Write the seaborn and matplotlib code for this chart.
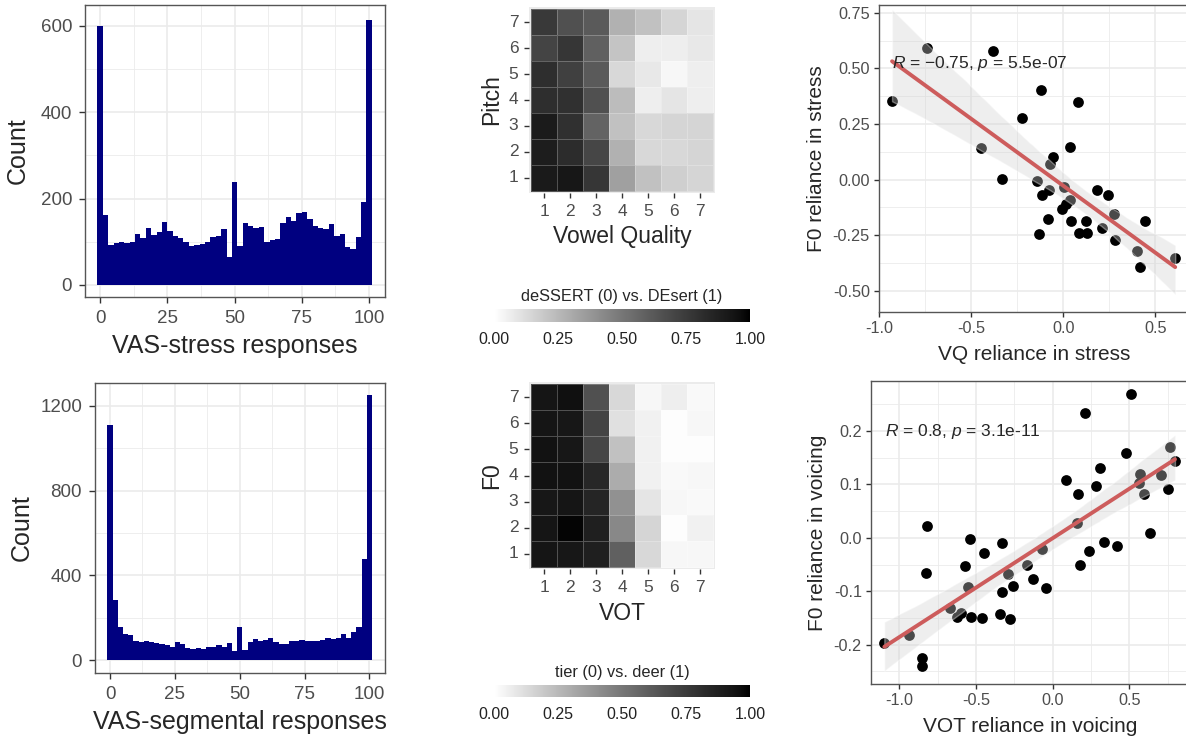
import numpy as np
import pandas as pd
import matplotlib
matplotlib.use("Agg")
import matplotlib.pyplot as plt
from matplotlib.colors import ListedColormap
from matplotlib.ticker import MultipleLocator
import seaborn as sns

# ---- data ----
bin_centers = np.arange(0, 101, 2)
stress_counts = [601, 162, 93, 97, 100, 98, 100, 118, 110, 131, 116, 122, 145, 124, 114, 110,
                 99, 91, 93, 94, 100, 112, 114, 129, 64, 238, 91, 143, 137, 131, 135, 99,
                 104, 106, 143, 157, 149, 166, 168, 152, 137, 133, 129, 141, 114, 118, 87, 83,
                 111, 193, 615]
segment_counts = [1112, 284, 155, 121, 118, 90, 87, 90, 85, 79, 76, 71, 63, 85, 76, 58,
                  54, 57, 54, 63, 60, 69, 63, 79, 44, 158, 47, 87, 98, 91, 95, 106,
                  84, 74, 74, 90, 90, 95, 90, 90, 90, 95, 103, 98, 103, 121, 103, 134,
                  158, 476, 1254]

steps = [1, 2, 3, 4, 5, 6, 7]
rows_top_down = [7, 6, 5, 4, 3, 2, 1]
stress_grid = [
    [0.76, 0.66, 0.62, 0.28, 0.22, 0.15, 0.09],
    [0.71, 0.77, 0.59, 0.21, 0.06, 0.06, 0.08],
    [0.81, 0.73, 0.62, 0.14, 0.08, 0.03, 0.06],
    [0.81, 0.80, 0.66, 0.24, 0.06, 0.09, 0.06],
    [0.90, 0.80, 0.58, 0.22, 0.14, 0.15, 0.15],
    [0.89, 0.82, 0.70, 0.28, 0.14, 0.14, 0.15],
    [0.91, 0.92, 0.77, 0.34, 0.22, 0.17, 0.15],
]
voicing_grid = [
    [0.93, 0.95, 0.66, 0.14, 0.03, 0.06, 0.02],
    [0.93, 0.92, 0.71, 0.11, 0.05, 0.01, 0.03],
    [0.945, 0.92, 0.70, 0.22, 0.05, 0.01, 0.01],
    [0.945, 0.945, 0.84, 0.30, 0.05, 0.02, 0.03],
    [0.92, 0.93, 0.85, 0.40, 0.09, 0.03, 0.02],
    [0.93, 0.985, 0.88, 0.43, 0.15, 0.01, 0.05],
    [0.93, 0.92, 0.88, 0.59, 0.14, 0.03, 0.03],
]

vq_stress = [-0.931, -0.742, -0.382, -0.447, -0.331, -0.222, -0.122, 0.078, 0.035, -0.055,
             -0.073, -0.142, -0.113, -0.080, -0.082, -0.131, 0.004, -0.009, 0.015, 0.036,
             0.040, 0.087, 0.131, 0.122, 0.185, 0.242, 0.209, 0.278, 0.282, 0.400,
             0.415, 0.445, 0.609]
f0_stress = [0.352, 0.593, 0.576, 0.142, 0.004, 0.277, 0.404, 0.347, 0.147, 0.102,
             0.072, -0.007, -0.067, -0.048, -0.175, -0.246, -0.033, -0.130, -0.108, -0.090,
             -0.187, -0.240, -0.240, -0.186, -0.048, -0.070, -0.216, -0.153, -0.273, -0.321,
             -0.393, -0.186, -0.351]

vot_voicing = [-1.098, -0.935, -0.854, -0.854, -0.817, -0.826, -0.670, -0.622, -0.600, -0.572,
               -0.550, -0.539, -0.533, -0.463, -0.448, -0.343, -0.328, -0.328, -0.289, -0.278,
               -0.257, -0.170, -0.130, -0.067, -0.046, 0.087, 0.157, 0.165, 0.178, 0.211,
               0.239, 0.280, 0.309, 0.337, 0.417, 0.478, 0.509, 0.565, 0.570, 0.596,
               0.635, 0.704, 0.750, 0.765, 0.798]
f0_voicing = [-0.198, -0.183, -0.226, -0.241, 0.022, -0.065, -0.131, -0.149, -0.140, -0.053,
              -0.093, -0.003, -0.148, -0.151, -0.028, -0.143, -0.101, -0.009, -0.068, -0.153,
              -0.091, -0.050, -0.078, -0.020, -0.094, 0.108, 0.027, 0.082, -0.050, 0.234,
              -0.024, 0.097, 0.130, -0.008, -0.016, 0.159, 0.269, 0.102, 0.119, 0.083,
              0.010, 0.118, 0.091, 0.171, 0.144]

sns.set_style("white")
plt.rcParams['font.family'] = ['Liberation Sans', 'DejaVu Sans']
plt.rcParams['mathtext.fontset'] = 'custom'
plt.rcParams['mathtext.rm'] = 'Liberation Sans'
plt.rcParams['mathtext.it'] = 'Liberation Sans:italic'

W, H = 1186, 737
fig = plt.figure(figsize=(W / 100, H / 100), dpi=100)


def box(x0, y0, x1, y1):
    return [x0 / W, 1 - y1 / H, (x1 - x0) / W, (y1 - y0) / H]


def bw_style(ax, tick_size, tick_len, pad):
    for s in ax.spines.values():
        s.set_color('#555555')
        s.set_linewidth(1.0)
    ax.grid(True, which='major', color='#EBEBEB', lw=1.2, zorder=0)
    ax.grid(True, which='minor', color='#EBEBEB', lw=0.6, zorder=0)
    ax.set_axisbelow(True)
    ax.tick_params(which='major', bottom=True, left=True, length=tick_len, width=1,
                   color='#333333', labelcolor='#4D4D4D', labelsize=tick_size, pad=pad)
    ax.tick_params(which='minor', length=0)


# lab-linear white -> black gradient
L = np.linspace(100, 0, 256)
Y = np.where(L > 8, ((L + 16) / 116) ** 3, L / 903.3)
g = np.where(Y > 0.0031308, 1.055 * Y ** (1 / 2.4) - 0.055, 12.92 * Y)
grey_cmap = ListedColormap(np.column_stack([g, g, g]))

# ---- histograms ----
hists = [
    (stress_counts, box(85, 5, 385, 297), (-27.8, 648.6), 200, 'VAS-stress responses', (-5.6, 105.9), 8),
    (segment_counts, box(95, 383, 385, 673), (-61.4, 1308.6), 400, 'VAS-segmental responses', (-5.8, 106), 5),
]
for counts, pos, ylim, ystep, xlab, xlim, ypad in hists:
    ax = fig.add_axes(pos)
    sns.histplot(x=bin_centers, weights=counts, binwidth=2, binrange=(-1, 101),
                 color='navy', alpha=1, linewidth=0, ax=ax)
    ax.set_xlim(*xlim)
    ax.set_ylim(*ylim)
    ax.xaxis.set_major_locator(MultipleLocator(25))
    ax.xaxis.set_minor_locator(MultipleLocator(12.5))
    ax.yaxis.set_major_locator(MultipleLocator(ystep))
    ax.yaxis.set_minor_locator(MultipleLocator(ystep / 2))
    bw_style(ax, 13.5, 4.3, 5)
    ax.set_xlabel(xlab, fontsize=18, labelpad=5)
    ax.set_ylabel('Count', fontsize=18, labelpad=ypad)

# ---- heatmaps ----
heats = [
    (stress_grid, box(529, 7, 715, 193), box(494, 309, 750, 322), 'Vowel Quality', 'Pitch',
     'deSSERT (0) vs. DEsert (1)'),
    (voicing_grid, box(529, 382, 715, 569), box(494, 685, 750, 697), 'VOT', 'F0',
     'tier (0) vs. deer (1)'),
]
for grid, pos, cpos, xlab, ylab, ctitle in heats:
    ax = fig.add_axes(pos)
    cax = fig.add_axes(cpos)
    df = pd.DataFrame(grid, index=rows_top_down, columns=steps)
    sns.heatmap(df, cmap=grey_cmap, vmin=0, vmax=1, linewidths=0.6,
                linecolor=(1, 1, 1, 0.25), ax=ax, cbar_ax=cax,
                cbar_kws={'orientation': 'horizontal', 'ticks': [0, 0.25, 0.5, 0.75, 1]})
    ax.set_facecolor('#EBEBEB')
    ax.set_xlim(-0.08, 7.08)
    ax.set_ylim(7.08, -0.08)
    ax.tick_params(bottom=True, left=True, length=3.6, width=1, color='#333333',
                   labelcolor='#4D4D4D', labelsize=12.5, pad=4)
    ax.set_yticklabels(rows_top_down, rotation=0)
    ax.set_xticklabels(steps, rotation=0)
    ax.set_xlabel(xlab, fontsize=16.5, labelpad=5)
    ax.set_ylabel(ylab, fontsize=16.5, labelpad=4)
    cax.set_xticklabels(['0.00', '0.25', '0.50', '0.75', '1.00'])
    cax.tick_params(axis='x', direction='in', color='white', length=2.5, width=0.8,
                    labelcolor='#222222', labelsize=11.5, pad=7, top=True, bottom=True)
    for s in cax.spines.values():
        s.set_visible(False)
    cax.set_title(ctitle, fontsize=11.8, pad=6)

# ---- scatter plots ----
scatters = [
    (vq_stress, f0_stress, box(879, 5, 1189, 312), (-1.002, 0.684), (-0.595, 0.785),
     0.25, 'VQ reliance in stress', 'F0 reliance in stress',
     r'$\it{R}$ = −0.75, $\it{p}$ = 5.5e-07', (-0.93, 0.52), '{:.2f}'),
    (vot_voicing, f0_voicing, box(871, 381, 1190, 684), (-1.185, 0.896), (-0.274, 0.294),
     0.1, 'VOT reliance in voicing', 'F0 reliance in voicing',
     r'$\it{R}$ = 0.8, $\it{p}$ = 3.1e-11', (-1.093, 0.199), '{:.1f}'),
]
for xs, ys, pos, xlim, ylim, ystep, xlab, ylab, note, npos, yfmt in scatters:
    ax = fig.add_axes(pos)
    sns.scatterplot(x=xs, y=ys, color='black', s=60, linewidth=0, ax=ax, zorder=2)
    n_before = len(ax.collections)
    sns.regplot(x=xs, y=ys, scatter=False, color='#CD5C5C', seed=3, ax=ax,
                line_kws={'lw': 2.8, 'zorder': 4})
    for coll in ax.collections[n_before:]:
        coll.set_facecolor('#D0D0D0')
        coll.set_alpha(0.36)
        coll.set_zorder(3)
    ax.set_xlim(*xlim)
    ax.set_ylim(*ylim)
    ax.xaxis.set_major_locator(MultipleLocator(0.5))
    ax.xaxis.set_minor_locator(MultipleLocator(0.25))
    ax.yaxis.set_major_locator(MultipleLocator(ystep))
    ax.yaxis.set_minor_locator(MultipleLocator(ystep / 2))
    ax.xaxis.set_major_formatter(lambda v, p: '{:.1f}'.format(0.0 if abs(v) < 1e-9 else v))
    ax.yaxis.set_major_formatter(lambda v, p, f=yfmt: f.format(0.0 if abs(v) < 1e-9 else v))
    bw_style(ax, 11.7, 3.6, 3)
    ax.set_xlabel(xlab, fontsize=15, labelpad=6)
    ax.set_ylabel(ylab, fontsize=15, labelpad=5)
    ax.text(npos[0], npos[1], note, fontsize=12.5, ha='left', va='center', zorder=5)

fig.savefig('out.png', dpi=100)
